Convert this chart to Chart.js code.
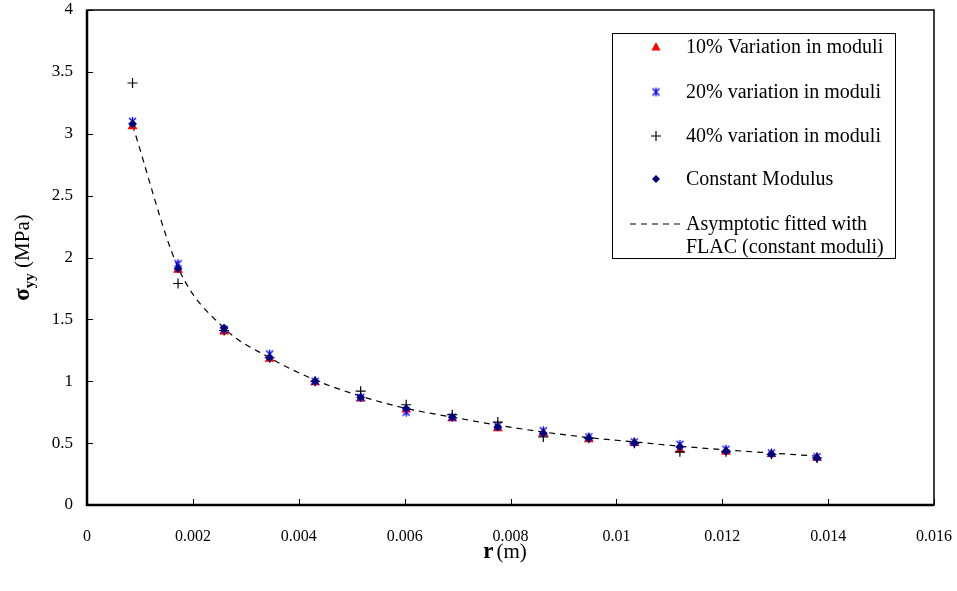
<!DOCTYPE html>
<html>
<head>
<meta charset="utf-8">
<script src="https://cdn.jsdelivr.net/npm/chart.js@4.4.1/dist/chart.umd.min.js"></script>
<style>
  html, body { margin: 0; padding: 0; background: #fff; }
  #wrap { width: 957px; height: 591px; position: relative; }
</style>
</head>
<body>
<div id="wrap"><canvas id="chart" width="957" height="591"></canvas></div>
<script>
// radius r (m)
const radii = [0.00086, 0.00172, 0.00259, 0.00345, 0.00431, 0.00517, 0.00603, 0.0069,
  0.00776, 0.00862, 0.00948, 0.01034, 0.0112, 0.01207, 0.01293, 0.01379];

// sigma_yy (MPa)
const var10 = [3.06, 1.90, 1.40, 1.18, 0.99, 0.86, 0.77, 0.70, 0.62, 0.58, 0.53, 0.50, 0.445, 0.43, 0.41, 0.38];
const var20 = [3.10, 1.95, 1.42, 1.22, 1.00, 0.87, 0.75, 0.71, 0.64, 0.60, 0.55, 0.51, 0.49, 0.45, 0.42, 0.39];
const var40 = [3.41, 1.79, 1.41, 1.19, 1.00, 0.92, 0.81, 0.73, 0.67, 0.55, 0.54, 0.50, 0.43, 0.43, 0.41, 0.38];
const constMod = [3.08, 1.91, 1.43, 1.19, 1.00, 0.87, 0.78, 0.71, 0.63, 0.58, 0.54, 0.50, 0.47, 0.435, 0.41, 0.38];
const fitted = [3.07, 1.92, 1.43, 1.19, 1.01, 0.88, 0.78, 0.71, 0.645, 0.59, 0.545, 0.51, 0.475, 0.445, 0.42, 0.395];

const xTicks = [0, 0.002, 0.004, 0.006, 0.008, 0.01, 0.012, 0.014, 0.016];
const yTicks = [0, 0.5, 1, 1.5, 2, 2.5, 3, 3.5, 4];

const legendItems = [
  '10% Variation in moduli',
  '20% variation in moduli',
  '40% variation in moduli',
  'Constant Modulus',
  'Asymptotic fitted with',
];

const SERIF = '"Liberation Serif", "Times New Roman", serif';

const toPoints = (ys) => ys.map((y, i) => ({ x: radii[i], y }));

// excel-like asterisk marker: x plus a vertical bar
function makeAsterisk(color) {
  const c = document.createElement('canvas');
  c.width = 11;
  c.height = 11;
  const g = c.getContext('2d');
  g.strokeStyle = color;
  g.lineWidth = 1.3;
  g.beginPath();
  g.moveTo(2, 2); g.lineTo(9, 9);
  g.moveTo(9, 2); g.lineTo(2, 9);
  g.moveTo(5.5, 1); g.lineTo(5.5, 10);
  g.stroke();
  return c;
}
const asterisk = makeAsterisk('#0000ff');

function drawMarker(ctx, kind, x, y) {
  ctx.save();
  if (kind === 0) {
    ctx.fillStyle = '#ff0000';
    ctx.beginPath();
    ctx.moveTo(x, y - 5);
    ctx.lineTo(x + 4.5, y + 3.5);
    ctx.lineTo(x - 4.5, y + 3.5);
    ctx.closePath();
    ctx.fill();
  } else if (kind === 1) {
    ctx.drawImage(asterisk, x - 5.5, y - 5.5);
  } else if (kind === 2) {
    ctx.strokeStyle = '#000';
    ctx.lineWidth = 1.2;
    ctx.beginPath();
    ctx.moveTo(x - 5, y); ctx.lineTo(x + 5, y);
    ctx.moveTo(x, y - 5); ctx.lineTo(x, y + 5);
    ctx.stroke();
  } else if (kind === 3) {
    ctx.fillStyle = '#000080';
    ctx.beginPath();
    ctx.moveTo(x, y - 4); ctx.lineTo(x + 4, y); ctx.lineTo(x, y + 4); ctx.lineTo(x - 4, y);
    ctx.closePath();
    ctx.fill();
  } else {
    ctx.strokeStyle = '#000';
    ctx.lineWidth = 1.2;
    ctx.setLineDash([6, 5]);
    ctx.beginPath();
    ctx.moveTo(x - 26, y); ctx.lineTo(x + 24, y);
    ctx.stroke();
  }
  ctx.restore();
}

const decorPlugin = {
  id: 'decor',
  beforeDatasetsDraw(chart) {
    const { ctx, chartArea: a, scales } = chart;
    ctx.save();
    // frame
    ctx.strokeStyle = '#000';
    ctx.lineWidth = 1.5;
    ctx.strokeRect(a.left, a.top, a.right - a.left, a.bottom - a.top);
    ctx.lineWidth = 2.5;
    ctx.beginPath();
    ctx.moveTo(a.left, a.top);
    ctx.lineTo(a.left, a.bottom);
    ctx.lineTo(a.right, a.bottom);
    ctx.stroke();
    // inside tick marks
    ctx.lineWidth = 1;
    ctx.beginPath();
    yTicks.forEach((v) => {
      const py = Math.round(scales.y.getPixelForValue(v)) + 0.5;
      ctx.moveTo(a.left, py);
      ctx.lineTo(a.left + 6, py);
    });
    xTicks.forEach((v) => {
      const px = Math.round(scales.x.getPixelForValue(v)) + 0.5;
      ctx.moveTo(px, a.bottom);
      ctx.lineTo(px, a.bottom - 6);
    });
    ctx.stroke();
    ctx.restore();
  },
  afterDraw(chart) {
    const { ctx, chartArea: a } = chart;
    ctx.save();
    ctx.fillStyle = '#000';
    ctx.textBaseline = 'alphabetic';

    // y axis title: sigma_yy (MPa)
    ctx.save();
    ctx.translate(29, (a.top + a.bottom) / 2);
    ctx.rotate(-Math.PI / 2);
    const p1 = 'bold 23px ' + SERIF;
    const p2 = 'bold 15px ' + SERIF;
    const p3 = '21px ' + SERIF;
    ctx.font = p1; const w1 = ctx.measureText('σ').width;
    ctx.font = p2; const w2 = ctx.measureText('yy').width;
    ctx.font = p3; const w3 = ctx.measureText(' (MPa)').width;
    let sx = -(w1 + w2 + w3) / 2;
    ctx.font = p1; ctx.fillText('σ', sx, 0); sx += w1;
    ctx.font = p2; ctx.fillText('yy', sx, 5); sx += w2;
    ctx.font = p3; ctx.fillText(' (MPa)', sx, 0);
    ctx.restore();

    // x axis title: r (m)
    const q1 = 'bold 23px ' + SERIF;
    const q2 = '21px ' + SERIF;
    ctx.font = q1; const r1 = ctx.measureText('r').width + 3;
    ctx.font = q2; const r2 = ctx.measureText('(m)').width;
    let tx = 505 - (r1 + r2) / 2;
    ctx.font = q1; ctx.fillText('r', tx, 558); tx += r1;
    ctx.font = q2; ctx.fillText('(m)', tx, 558);

    // legend box
    ctx.fillStyle = '#fff';
    ctx.fillRect(612, 33, 283, 225);
    ctx.strokeStyle = '#000';
    ctx.lineWidth = 1;
    ctx.strokeRect(612.5, 33.5, 283, 225);
    const rows = [48, 93, 137, 180, 225];
    ctx.font = '20px ' + SERIF;
    ctx.fillStyle = '#000';
    ctx.textBaseline = 'middle';
    legendItems.forEach((label, i) => {
      drawMarker(ctx, i, 656, rows[i] - 1);
      ctx.fillText(label, 686, rows[i]);
    });
    ctx.fillText('FLAC (constant moduli)', 686, 248);
    ctx.restore();
  },
};

const scatterSet = (label, ys, style, color, radius, order) => ({
  label,
  data: toPoints(ys),
  showLine: false,
  pointStyle: style,
  pointRadius: radius,
  pointBackgroundColor: color,
  pointBorderColor: color,
  pointBorderWidth: 1.2,
  order,
});

new Chart(document.getElementById('chart'), {
  type: 'scatter',
  data: {
    datasets: [
      {
        label: 'Asymptotic fitted with FLAC (constant moduli)',
        data: toPoints(fitted),
        showLine: true,
        borderColor: '#000',
        borderWidth: 1.2,
        borderDash: [6, 5],
        pointRadius: 0,
        cubicInterpolationMode: 'monotone',
        order: 5,
      },
      scatterSet('10% Variation in moduli', var10, 'triangle', '#ff0000', 4.5, 4),
      scatterSet('20% variation in moduli', var20, asterisk, '#0000ff', 5, 3),
      scatterSet('40% variation in moduli', var40, 'cross', '#000000', 5, 2),
      scatterSet('Constant Modulus', constMod, 'rectRot', '#000080', 3.5, 1),
    ],
  },
  options: {
    responsive: false,
    animation: false,
    layout: { padding: { left: 0, right: 23, top: 10, bottom: 0 } },
    plugins: { legend: { display: false }, tooltip: { enabled: false } },
    scales: {
      x: {
        type: 'linear',
        min: 0,
        max: 0.016,
        afterBuildTicks: (s) => { s.ticks = xTicks.map((v) => ({ value: v })); },
        afterFit: (s) => { s.height = 86; s.paddingLeft = 0; s.paddingRight = 0; },
        grid: { display: false, drawTicks: false },
        border: { display: false },
        ticks: {
          padding: 22,
          color: '#000',
          font: { family: SERIF, size: 16 },
          callback: (v) => String(+v.toFixed(3)),
        },
      },
      y: {
        min: 0,
        max: 4,
        afterBuildTicks: (s) => { s.ticks = yTicks.map((v) => ({ value: v })); },
        afterFit: (s) => { s.width = 87; s.paddingTop = 0; s.paddingBottom = 0; },
        grid: { display: false, drawTicks: false },
        border: { display: false },
        ticks: {
          padding: 14,
          color: '#000',
          font: { family: SERIF, size: 17 },
          callback: (v) => String(v),
        },
      },
    },
  },
  plugins: [decorPlugin],
});
</script>
</body>
</html>
